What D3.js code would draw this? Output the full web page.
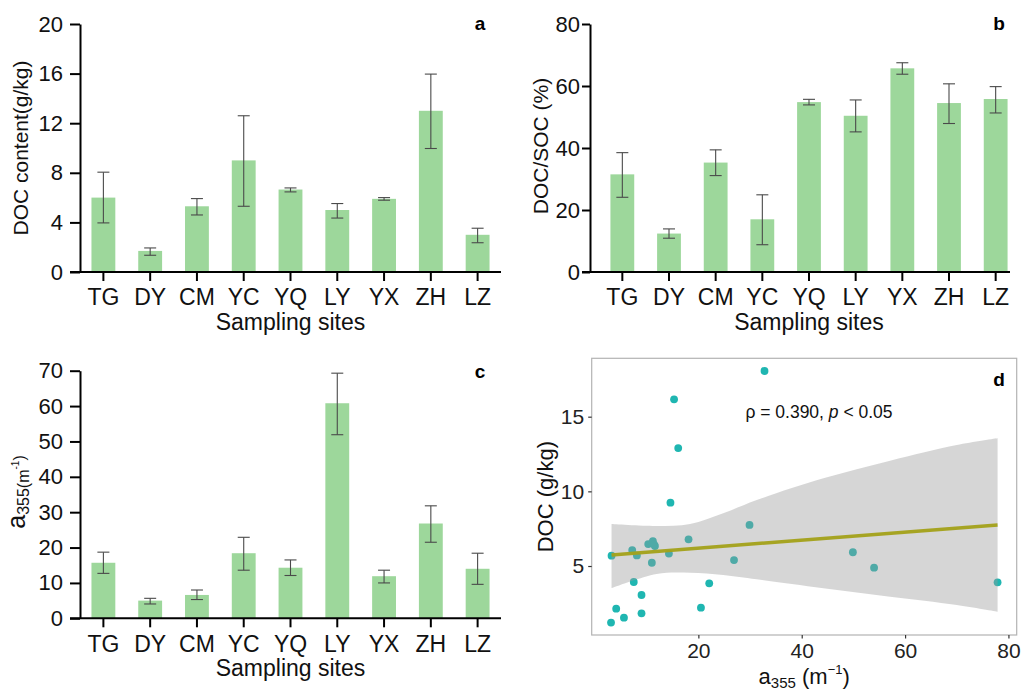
<!DOCTYPE html>
<html><head><meta charset="utf-8">
<script src="https://cdn.jsdelivr.net/npm/d3@7"></script>
<style>
body{margin:0;background:#fff}
text{font-family:"Liberation Sans",Arial,sans-serif}
</style>
</head><body>
<svg id="chart" width="1022" height="693"></svg>
<script>
// ---- data ----
const sites = ["TG","DY","CM","YC","YQ","LY","YX","ZH","LZ"];
const docMean = [6.0,1.7,5.3,9.0,6.65,5.0,5.9,13.0,3.0];
const docLow  = [3.96,1.35,4.6,5.3,6.46,4.35,5.79,9.96,2.36];
const docHigh = [8.05,1.94,5.92,12.6,6.78,5.52,6.0,15.96,3.53];
const ratioMean = [31.5,12.4,35.3,17.0,54.8,50.4,65.7,54.5,55.8];
const ratioLow  = [24.1,10.9,31.1,8.8,53.9,45.2,63.8,47.9,51.3];
const ratioHigh = [38.5,13.9,39.4,24.9,55.7,55.5,67.5,60.7,59.8];
const a355Mean = [15.7,5.0,6.6,18.4,14.3,60.8,11.9,26.8,14.0];
const a355Low  = [12.7,4.05,5.3,13.6,12.1,51.9,10.0,21.5,9.6];
const a355High = [18.7,5.65,8.0,22.9,16.5,69.3,13.6,31.8,18.4];
const ticksA = [0,4,8,12,16,20];
const ticksB = [0,20,40,60,80];
const ticksC = [0,10,20,30,40,50,60,70];
const ticksDx = [20,40,60,80];
const ticksDy = [5,10,15];
const scatterX = [32.8,15.3,16.1,14.6,29.9,18.1,3.2,7.2,8.1,10.3,11.2,11.6,11.0,14.3,26.9,49.9,54.0,77.9,7.5,22.1,9.0,20.5,4.1,9.0,5.6,3.1,11.4];
const scatterY = [18.06,16.16,12.9,9.24,7.75,6.79,5.69,6.07,5.71,6.47,6.67,6.34,5.22,5.83,5.40,5.92,4.89,3.91,3.93,3.84,3.06,2.21,2.14,1.83,1.54,1.21,6.45];
const fitX = [3.2,77.9];
const fitY = [5.74,7.75];
const bandX  = [3.2,11.9,18.4,24.8,31.3,44.2,57.1,70.0,77.9];
const bandLo = [3.51,4.46,4.55,4.40,4.11,3.51,2.94,2.39,1.94];
const bandHi = [7.81,7.68,7.81,8.53,9.42,10.87,12.05,13.10,13.55];

const svg = d3.select("#chart");
const barColor = "#9dd79b";
const FONT = "Liberation Sans, Arial, sans-serif";

function barPanel(cfg){
  const g = svg.append("g");
  const x = d3.scaleBand().domain(sites).range(cfg.xr).paddingInner(0.49).paddingOuter(0.245);
  const y = d3.scaleLinear().domain(cfg.yd).range(cfg.yr);
  const rows = sites.map((s,i)=>({s, m:cfg.mean[i], lo:cfg.low[i], hi:cfg.high[i]}));
  g.selectAll("rect.bar").data(rows).join("rect")
    .attr("x", d=>x(d.s)).attr("width", x.bandwidth())
    .attr("y", d=>y(d.m)).attr("height", d=>y(0)-y(d.m))
    .attr("fill", barColor);
  const eb = g.selectAll("g.eb").data(rows).join("g")
    .attr("stroke","#4a4a4a").attr("stroke-width",1.1);
  eb.append("line").attr("x1",d=>x(d.s)+x.bandwidth()/2).attr("x2",d=>x(d.s)+x.bandwidth()/2)
    .attr("y1",d=>y(d.lo)).attr("y2",d=>y(d.hi));
  [ "lo","hi" ].forEach(k=>{
    eb.append("line").attr("x1",d=>x(d.s)+x.bandwidth()/2-6).attr("x2",d=>x(d.s)+x.bandwidth()/2+6)
      .attr("y1",d=>y(d[k])).attr("y2",d=>y(d[k]));
  });
  // y axis
  const ya = g.append("g").attr("transform",`translate(${cfg.ax},0)`)
    .call(d3.axisLeft(y).tickValues(cfg.ticks).tickSize(cfg.ts).tickSizeOuter(0).tickPadding(cfg.tp));
  ya.select(".domain").attr("stroke","#000").attr("stroke-width",2);
  ya.selectAll(".tick line").attr("stroke","#000").attr("stroke-width",2);
  ya.selectAll(".tick text").attr("font-size",22).attr("fill","#111").attr("font-family",FONT);
  // x axis
  const xa = g.append("g").attr("transform",`translate(0,${y(0)})`)
    .call(d3.axisBottom(x).tickSize(9).tickSizeOuter(0).tickPadding(8));
  xa.select(".domain").remove();
  xa.selectAll(".tick line").attr("stroke","#000").attr("stroke-width",2);
  xa.selectAll(".tick text").attr("font-size",23).attr("fill","#111").attr("font-family",FONT);
  g.append("line").attr("x1",cfg.ax-cfg.ts).attr("x2",cfg.xEnd).attr("y1",y(0)).attr("y2",y(0))
    .attr("stroke","#000").attr("stroke-width",2);
  // titles
  g.append("text").attr("x",(cfg.xr[0]+cfg.xr[1])/2).attr("y",cfg.xtY)
    .attr("text-anchor","middle").attr("font-size",23).attr("fill","#111").text("Sampling sites");
  const yt = g.append("text").attr("transform",`translate(${cfg.ytX},${cfg.ytY}) rotate(-90)`)
    .attr("text-anchor","middle").attr("font-size",21).attr("fill","#111");
  cfg.ytitle(yt);
  g.append("text").attr("x",cfg.lab[0]).attr("y",cfg.lab[1]).attr("text-anchor","middle")
    .attr("font-size",19).attr("font-weight","bold").attr("fill","#000").text(cfg.label);
}

barPanel({xr:[80,501], ax:80, xEnd:501, yd:[0,20], yr:[272,24], ticks:ticksA, ts:10, tp:7,
  mean:docMean, low:docLow, high:docHigh, xtY:330, ytX:28, ytY:148,
  ytitle:t=>t.text("DOC content(g/kg)"), label:"a", lab:[480,30]});
barPanel({xr:[599,1019], ax:590, xEnd:1010, yd:[0,80], yr:[272,24], ticks:ticksB, ts:8, tp:2,
  mean:ratioMean, low:ratioLow, high:ratioHigh, xtY:330, ytX:548, ytY:146,
  ytitle:t=>t.text("DOC/SOC (%)"), label:"b", lab:[999,30]});
barPanel({xr:[80,501], ax:80, xEnd:501, yd:[0,70], yr:[618.3,370.7], ticks:ticksC, ts:10, tp:7,
  mean:a355Mean, low:a355Low, high:a355High, xtY:676, ytX:25, ytY:492,
  ytitle:t=>{
    t.append("tspan").attr("font-size",25).text("a");
    t.append("tspan").attr("font-size",16).attr("dy",4).text("355(m");
    t.append("tspan").attr("font-size",10).attr("dy",-10).text("-1");
    t.append("tspan").attr("font-size",16).attr("dy",6).text(")");
  }, label:"c", lab:[480,378]});

// ---- panel d ----
(function(){
  const g = svg.append("g");
  const L=591.7, R=1016.7, T=358.3, B=635;
  const x = d3.scaleLinear().domain([-0.64,81.6]).range([L,R]);
  const y = d3.scaleLinear().domain([0.38,18.91]).range([B,T]);
  g.selectAll("circle").data(scatterX.map((v,i)=>({x:v,y:scatterY[i]}))).join("circle")
    .attr("cx",d=>x(d.x)).attr("cy",d=>y(d.y)).attr("r",3.9).attr("fill","#1fb6b1");
  const band = bandX.map((v,i)=>({x:v, lo:bandLo[i], hi:bandHi[i]}));
  g.append("path").datum(band)
    .attr("d", d3.area().x(d=>x(d.x)).y0(d=>y(d.lo)).y1(d=>y(d.hi)).curve(d3.curveCatmullRom.alpha(0.5)))
    .attr("fill","#999999").attr("fill-opacity",0.4);
  g.append("path").datum(fitX.map((v,i)=>({x:v,y:fitY[i]})))
    .attr("d", d3.line().x(d=>x(d.x)).y(d=>y(d.y)))
    .attr("stroke","#a3a119").attr("stroke-width",3.5).attr("fill","none").attr("opacity",0.95);
  g.append("rect").attr("x",L).attr("y",T).attr("width",R-L).attr("height",B-T)
    .attr("fill","none").attr("stroke","#b3b3b3").attr("stroke-width",1.2);
  const xa = g.append("g").attr("transform",`translate(0,${B})`)
    .call(d3.axisBottom(x).tickValues(ticksDx).tickSize(3.5).tickSizeOuter(0).tickPadding(5));
  xa.select(".domain").remove();
  xa.selectAll(".tick line").attr("stroke","#333").attr("stroke-width",1.2);
  xa.selectAll(".tick text").attr("font-size",21).attr("fill","#222").attr("font-family",FONT);
  const ya = g.append("g").attr("transform",`translate(${L},0)`)
    .call(d3.axisLeft(y).tickValues(ticksDy).tickSize(3.5).tickSizeOuter(0).tickPadding(4));
  ya.select(".domain").remove();
  ya.selectAll(".tick line").attr("stroke","#333").attr("stroke-width",1.2);
  ya.selectAll(".tick text").attr("font-size",21).attr("fill","#222").attr("font-family",FONT);
  g.append("text").attr("transform",`translate(553,${(T+B)/2}) rotate(-90)`)
    .attr("text-anchor","middle").attr("font-size",22).attr("fill","#111").text("DOC (g/kg)");
  const xt = g.append("text").attr("x",(L+R)/2).attr("y",684).attr("text-anchor","middle")
    .attr("font-size",22).attr("fill","#111");
  xt.append("tspan").text("a");
  xt.append("tspan").attr("font-size",15).attr("dy",4).text("355");
  xt.append("tspan").attr("dy",-4).text(" (m");
  xt.append("tspan").attr("font-size",13).attr("dy",-10).text("\u22121");
  xt.append("tspan").attr("dy",10).text(")");
  const an = g.append("text").attr("x",819).attr("y",418).attr("text-anchor","middle")
    .attr("font-size",17.5).attr("fill","#111");
  an.append("tspan").text("\u03C1 = 0.390, ");
  an.append("tspan").attr("font-style","italic").text("p");
  an.append("tspan").text(" < 0.05");
  g.append("text").attr("x",999).attr("y",386).attr("text-anchor","middle")
    .attr("font-size",19).attr("font-weight","bold").attr("fill","#000").text("d");
})();
</script>
</body></html>
